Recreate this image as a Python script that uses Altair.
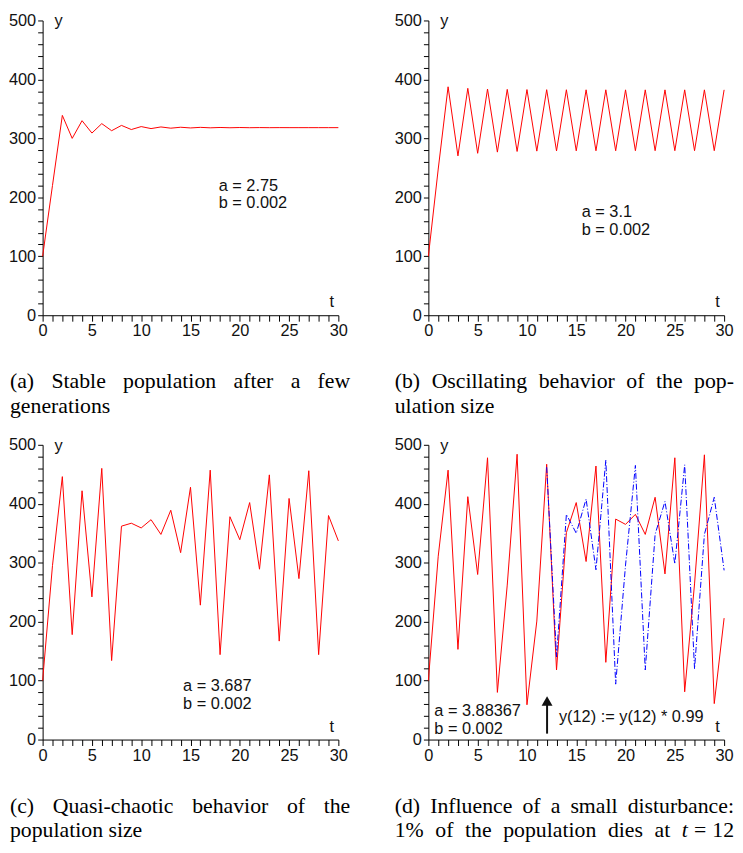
import altair as alt
import pandas as pd

# ---------------- data ----------------
t = list(range(31))
pop_a = [100, 220, 339, 300, 330, 309, 325, 313, 322, 315, 320, 316.6, 319.4, 317.3,
         318.9, 317.7, 318.7, 317.9, 318.5, 318.0, 318.4, 318.1, 318.3, 318.15, 318.25,
         318.2, 318.2, 318.2, 318.2, 318.2, 318.2]
pop_b = [100, 248, 387.5, 270.3, 384.9, 274.7, 383.7, 276.7, 383.1, 277.8, 382.8, 278.4,
         382.6, 278.7, 382.5, 278.9, 382.4, 279.0, 382.4, 279.0, 382.3, 279.1, 382.3,
         279.1, 382.3, 279.1, 382.3, 279.1, 382.3, 279.1, 382.3]
pop_c = [100, 295, 446, 178, 422, 242, 460, 134, 362, 367, 359, 373, 348, 389, 317, 428,
         228, 457, 144, 378, 339, 402, 289, 449, 167, 409, 273, 456, 144, 380, 337]
pop_d = [100, 311, 457, 153, 412, 280, 478, 80, 262, 484, 59, 201, 467, 118, 351, 402,
         302, 464, 131, 374, 365, 382, 348, 411, 281, 478, 81, 264, 483, 61, 206]
t_dist = list(range(12, 31))
pop_d_dist = [462, 140, 382, 350, 408, 288, 474, 94, 296, 465, 118, 348, 404, 298, 466,
              120, 348, 411, 287]

x_tick_values = list(range(0, 31))
y_tick_values = list(range(0, 501, 20))

params = {
    "a": ["a = 2.75", "b = 0.002"],
    "b": ["a = 3.1", "b = 0.002"],
    "c": ["a = 3.687", "b = 0.002"],
    "d": ["a = 3.88367", "b = 0.002"],
}
captions = {
    "a": [["(a)", "Stable", "population", "after", "a", "few"], ["generations"]],
    "b": [["(b)", "Oscillating", "behavior", "of", "the", "pop-"], ["ulation size"]],
    "c": [["(c)", "Quasi-chaotic", "behavior", "of", "the"], ["population size"]],
    "d": [["(d)", "Influence", "of", "a", "small", "disturbance:"],
          ["1%", "of", "the", "population", "dies", "at"]],
}
disturb_text = "y(12) := y(12) * 0.99"

# ---------------- styling / layout ----------------
SANS = "Liberation Sans"
SERIF = "Liberation Serif"
SANS_SIZE = 16.5
W, H = 299, 298
RED = "#ff0000"
BLUE = "#0000ff"
CAP_SIZE = 22
CAP_Y1, CAP_Y2 = 372, 397

TIMES = {' ': 250, '(': 333, ')': 333, 'a': 444, 'b': 500, 'c': 444, 'd': 500, 'e': 444,
         'f': 333, 'g': 500, 'h': 500, 'i': 278, 'j': 278, 'k': 500, 'l': 278, 'm': 778,
         'n': 500, 'o': 500, 'p': 500, 'q': 500, 'r': 333, 's': 389, 't': 278, 'u': 500,
         'v': 500, 'w': 722, 'x': 500, 'y': 500, 'z': 444, '-': 333, ':': 278, '%': 833,
         '1': 500, '2': 500, '=': 564, 'O': 722, 'S': 556, 'Q': 722, 'I': 333}


def tw(s, size=CAP_SIZE):
    return sum(TIMES.get(ch, 500) for ch in s) / 1000 * size


one = pd.DataFrame({"k": [0]})


def txt(s, x, y, size=SANS_SIZE, font=SANS, align="left", style="normal", color="#111111"):
    return alt.Chart(one).mark_text(
        text=s, align=align, baseline="alphabetic", font=font, fontSize=size,
        fontStyle=style, color=color
    ).encode(x=alt.value(x), y=alt.value(y))


def justified(words, x0, x1, y, styles=None):
    out = []
    styles = styles or ["normal"] * len(words)
    total = sum(tw(w) for w in words)
    gap = (x1 - x0 - total) / (len(words) - 1)
    x = x0
    for w, st in zip(words, styles):
        out.append(txt(w, x, y, CAP_SIZE, SERIF, style=st, color="black"))
        x += tw(w) + gap
    return out


def caption_layers(key, x0, x1):
    out = justified(captions[key][0], x0, x1, CAP_Y1)
    if key != "d":
        out.append(txt(captions[key][1][0], x0, CAP_Y2, CAP_SIZE, SERIF, color="black"))
    return out


def axes():
    xe = alt.X("t:Q", scale=alt.Scale(domain=[0, 30], nice=False),
               axis=alt.Axis(values=x_tick_values,
                             labelExpr="datum.value % 5 == 0 ? datum.label : ''",
                             title=None, tickSize=6, labelPadding=2, labelFlush=False,
                             labelOverlap=False, grid=False))
    ye = alt.Y("y:Q", scale=alt.Scale(domain=[0, 500], nice=False),
               axis=alt.Axis(values=y_tick_values,
                             labelExpr="datum.value % 100 == 0 ? datum.label : ''",
                             title=None, tickSize=5, labelPadding=2, labelOverlap=False,
                             grid=False))
    return xe, ye


def panel(key, series, ann_xy, cap_x0, cap_x1, extra_layers=()):
    xe, ye = axes()
    df = pd.DataFrame({"t": t, "y": series})
    line = alt.Chart(df).mark_line(color=RED, strokeWidth=1).encode(x=xe, y=ye)
    layers = [line]
    layers += list(extra_layers)
    ax, ay = ann_xy
    layers.append(txt(params[key][0], ax, ay))
    layers.append(txt(params[key][1], ax, ay + 18))
    layers.append(txt("y", 12, 6))
    layers.append(txt("t", 290, 290))
    layers += caption_layers(key, cap_x0, cap_x1)
    return alt.layer(*layers).properties(width=W, height=H)


pa = panel("a", pop_a, (178, 172), -33, 311)
pb = panel("b", pop_b, (155, 199), -34, 309)
pc = panel("c", pop_c, (142, 249), -33, 311)

# panel d extras
xe, ye = axes()
dist_df = pd.DataFrame({"t": t_dist, "y": pop_d_dist})
blue = alt.Chart(dist_df).mark_line(color=BLUE, strokeWidth=1,
                                    strokeDash=[6, 2, 1, 2]).encode(x=xe, y=ye)
arrow_rule = alt.Chart(one).mark_rule(color="#111111", strokeWidth=2).encode(
    x=alt.value(120), y=alt.value(292), y2=alt.value(262))
arrow_head = alt.Chart(one).mark_point(shape="triangle-up", filled=True, size=121,
                                       color="#111111", opacity=1).encode(
    x=alt.value(120), y=alt.value(259))
dist_label = txt(disturb_text, 132, 280)
# caption d, line 2: justified words, then "t = 12" (t in italics)
tail_end = 309
eq_x = tail_end - tw("12") - 0.278 * CAP_SIZE - tw("=")
line2_words = captions["d"][1] + ["t"]
line2_end = eq_x - 0.278 * CAP_SIZE
tail = justified(line2_words, -34, line2_end, CAP_Y2,
                 styles=["normal"] * len(captions["d"][1]) + ["italic"])
tail += [
    txt("12", tail_end, CAP_Y2, CAP_SIZE, SERIF, align="right", color="black"),
    txt("=", eq_x, CAP_Y2, CAP_SIZE, SERIF, color="black"),
]
pd_ = panel("d", pop_d, (6, 274), -34, 309,
            extra_layers=[blue, arrow_rule, arrow_head, dist_label] + tail)

chart = alt.concat(
    pa, pb, pc, pd_, columns=2,
    spacing={"row": 131, "column": 91},
    bounds="flush",
).properties(padding=0).configure_view(stroke=None).configure_axis(
    domainColor="black", tickColor="black", labelColor="#111111",
    labelFont=SANS, labelFontSize=SANS_SIZE, domainWidth=1, tickWidth=1
)

chart.save("out.html", embed_options={"renderer": "svg", "actions": False})
